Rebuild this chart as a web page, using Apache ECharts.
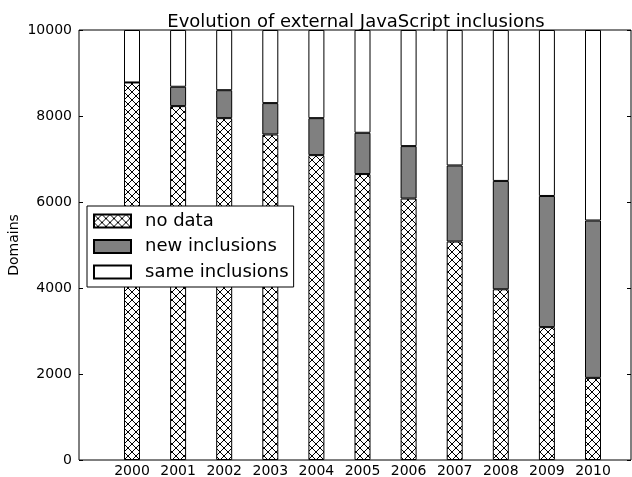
<!DOCTYPE html>
<html>
<head>
<meta charset="utf-8">
<script src="https://cdn.jsdelivr.net/npm/echarts@6/dist/echarts.min.js"></script>
<style>
html,body{margin:0;padding:0;background:#fff;}
#chart{width:632px;height:477px;}
</style>
</head>
<body>
<div id="chart"></div>
<script>
const years = ['2000','2001','2002','2003','2004','2005','2006','2007','2008','2009','2010'];
const noData = [8780, 8230, 7950, 7570, 7090, 6650, 6080, 5080, 3970, 3090, 1910];
const newInclusions = [0, 450, 650, 730, 860, 960, 1220, 1770, 2520, 3050, 3660];
const sameInclusions = [1220, 1320, 1400, 1700, 2050, 2390, 2700, 3150, 3510, 3860, 4430];
const yTicks = [0, 2000, 4000, 6000, 8000, 10000];

function hatch() {
  const c = document.createElement('canvas');
  c.width = 8; c.height = 8;
  const g = c.getContext('2d');
  g.fillStyle = '#fff'; g.fillRect(0, 0, 8, 8);
  g.strokeStyle = '#000'; g.lineWidth = 1;
  g.beginPath();
  g.moveTo(0, 0); g.lineTo(8, 8);
  g.moveTo(8, 0); g.lineTo(0, 8);
  g.stroke();
  return c;
}

const font = 'DejaVu Sans';
const chart = echarts.init(document.getElementById('chart'), null, {renderer: 'canvas'});
const frameLeft = 79, frameTop = 30, frameW = 552, frameH = 430;
const slot = 46.1;
const barLeft = 132 - slot / 2;

chart.setOption({
  animation: false,
  backgroundColor: '#fff',
  title: {
    text: 'Evolution of external JavaScript inclusions',
    left: 351, top: 8, textAlign: 'center',
    textStyle: {fontFamily: font, fontSize: 18, fontWeight: 'normal', color: '#000'}
  },
  legend: {
    orient: 'vertical',
    left: 87, top: 206,
    padding: [6, 5, 6, 6],
    icon: 'rect',
    itemWidth: 37, itemHeight: 13, itemGap: 7.5,
    backgroundColor: '#fff', borderColor: '#000', borderWidth: 1,
    textStyle: {fontFamily: font, fontSize: 18, color: '#000', padding: [0, 0, 0, 9]},
    data: ['no data', 'new inclusions', 'same inclusions']
  },
  grid: [
    {left: frameLeft, top: frameTop, width: frameW, height: frameH, outerBoundsMode: 'none', containLabel: false,
      show: true, borderColor: '#000', borderWidth: 1, backgroundColor: 'transparent'},
    {left: barLeft, top: frameTop, width: slot * years.length, height: frameH, outerBoundsMode: 'none', containLabel: false}
  ],
  xAxis: [
    {gridIndex: 0, type: 'value', min: 0, max: 1, show: false},
    {gridIndex: 1, type: 'category', data: years, position: 'bottom',
      axisLine: {show: false},
      axisTick: {show: true, inside: true, length: 4, alignWithLabel: true, interval: 0, lineStyle: {color: '#000'}},
      axisLabel: {fontFamily: font, fontSize: 14, color: '#000', margin: 4, interval: 0}},
    {gridIndex: 1, type: 'category', data: years, position: 'top',
      axisLine: {show: false},
      axisTick: {show: true, inside: true, length: 4, alignWithLabel: true, interval: 0, lineStyle: {color: '#000'}},
      axisLabel: {show: false}}
  ],
  yAxis: [
    {gridIndex: 0, type: 'value', min: 0, max: 10000, interval: 2000, position: 'left',
      name: 'Domains', nameLocation: 'middle', nameGap: 58, nameMoveOverlap: false,
      nameTextStyle: {fontFamily: font, fontSize: 14, color: '#000'},
      axisLine: {show: false}, splitLine: {show: false},
      axisTick: {show: true, inside: true, length: 4, lineStyle: {color: '#000'}},
      axisLabel: {fontFamily: font, fontSize: 14, color: '#000', margin: 7, formatter: v => String(v)}},
    {gridIndex: 0, type: 'value', min: 0, max: 10000, interval: 2000, position: 'right',
      axisLine: {show: false}, splitLine: {show: false},
      axisTick: {show: true, inside: true, length: 4, lineStyle: {color: '#000'}},
      axisLabel: {show: false}},
    {gridIndex: 1, type: 'value', min: 0, max: 10000, show: false}
  ],
  series: [
    {name: 'no data', type: 'bar', stack: 's', xAxisIndex: 1, yAxisIndex: 2, barWidth: 16,
      data: noData,
      itemStyle: {color: {image: hatch(), repeat: 'repeat'}, borderColor: '#000', borderWidth: 1}},
    {name: 'new inclusions', type: 'bar', stack: 's', xAxisIndex: 1, yAxisIndex: 2, barWidth: 16,
      data: newInclusions,
      itemStyle: {color: '#808080', borderColor: '#000', borderWidth: 1}},
    {name: 'same inclusions', type: 'bar', stack: 's', xAxisIndex: 1, yAxisIndex: 2, barWidth: 16,
      data: sameInclusions,
      itemStyle: {color: '#fff', borderColor: '#000', borderWidth: 1}}
  ]
});
</script>
</body>
</html>
